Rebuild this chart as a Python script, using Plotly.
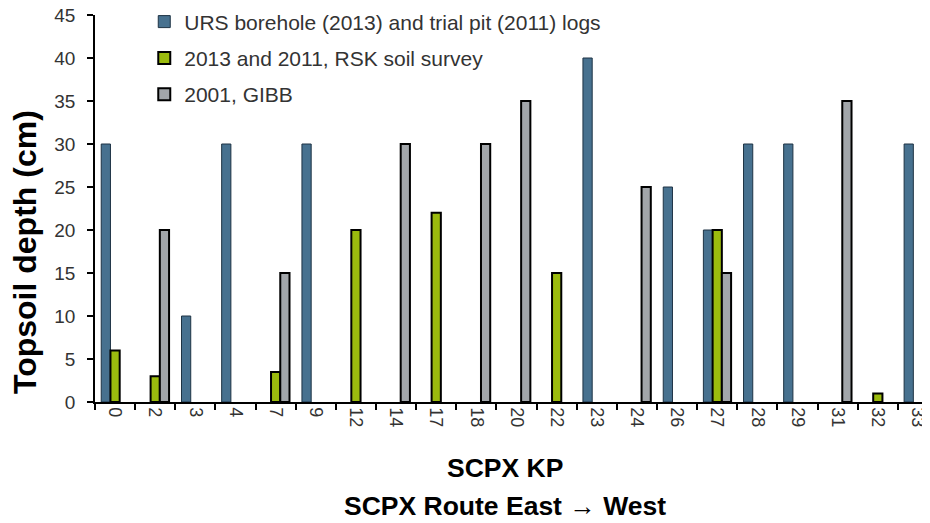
import plotly.graph_objects as go

categories = ["0", "2", "3", "4", "7", "9", "12", "14", "17", "18", "20",
              "22", "23", "24", "26", "27", "28", "29", "31", "32", "33"]
urs_values = [30, None, 10, 30, None, 30, None, None, None, None, None,
              None, 40, None, 25, 20, 30, 30, None, None, 30]
rsk_values = [6, 3, None, None, 3.5, None, 20, None, 22, None, None,
              15, None, None, None, 20, None, None, None, 1, None]
gibb_values = [None, 20, None, None, 15, None, None, 30, None, 30, 35,
               None, None, 25, None, 15, None, None, 35, None, None]

series_names = ["URS borehole (2013) and trial pit (2011) logs",
                "2013 and 2011, RSK soil survey",
                "2001, GIBB"]

FONT = "Liberation Sans, Arial, sans-serif"

fig = go.Figure()
fig.add_trace(go.Bar(x=categories, y=urs_values, name=series_names[0],
                     marker=dict(color="#47718F", line=dict(color="#1E3344", width=1)),
                     legendgroup="a"))
fig.add_trace(go.Bar(x=categories, y=rsk_values, name=series_names[1],
                     marker=dict(color="#9BBB0E", line=dict(color="#000000", width=2)),
                     legendgroup="b"))
fig.add_trace(go.Bar(x=categories, y=gibb_values, name=series_names[2],
                     marker=dict(color="#A2A6AA", line=dict(color="#000000", width=2)),
                     legendgroup="c"))

fig.update_layout(
    width=930, height=523,
    margin=dict(l=87, r=8, t=7, b=129, autoexpand=False),
    paper_bgcolor="white", plot_bgcolor="white",
    barmode="group", bargap=0.31, bargroupgap=0,
    font=dict(family=FONT, size=19, color="#333333"),
    showlegend=True,
    legend=dict(x=0.059, y=1.035, xanchor="left", yanchor="top",
                bgcolor="rgba(0,0,0,0)", tracegroupgap=6,
                font=dict(family=FONT, size=21, color="#333333")),
    xaxis=dict(type="category", range=[-0.5, 20.3], automargin=False,
               showline=True, linecolor="#000000", linewidth=1.5,
               ticks="outside", tickson="boundaries", ticklen=6,
               tickcolor="#000000", tickwidth=1.5,
               tickangle=90, showgrid=False, ticklabeloverflow="allow",
               tickfont=dict(family=FONT, size=18, color="#333333")),
    yaxis=dict(range=[0, 45], dtick=5, showline=True, linecolor="#000000",
               automargin=False, ticklabeloverflow="allow",
               linewidth=1.5, ticks="outside", ticklen=6, tickcolor="#000000",
               tickwidth=1.5, showgrid=False, zeroline=False,
               ticklabelstandoff=8,
               tickfont=dict(family=FONT, size=19, color="#333333")),
    annotations=[
        dict(text="<b>Topsoil depth (cm)</b>", xref="paper", yref="paper",
             x=-0.0838, y=0.3876, xanchor="center", yanchor="middle",
             textangle=-90, showarrow=False,
             font=dict(family=FONT, size=32, color="#000000")),
        dict(text="<b>SCPX KP</b>", xref="paper", yref="paper",
             x=0.491, y=-0.1705, xanchor="center", yanchor="middle", showarrow=False,
             font=dict(family=FONT, size=26.5, color="#000000")),
        dict(text="<b>SCPX Route East \u2192 West</b>", xref="paper", yref="paper",
             x=0.491, y=-0.2687, xanchor="center", yanchor="middle", showarrow=False,
             font=dict(family=FONT, size=26.5, color="#000000")),
    ],
)

fig.write_html("out.html")
